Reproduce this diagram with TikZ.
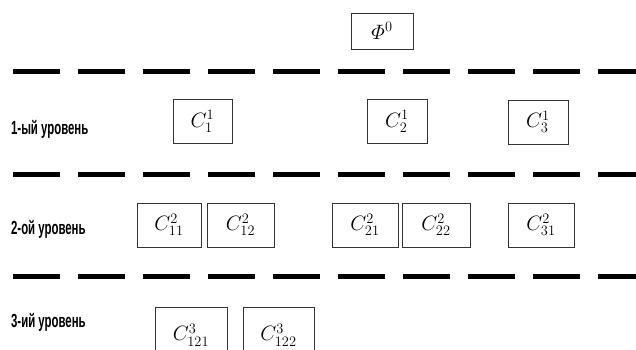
\documentclass[tikz,border=0pt]{standalone}
\usepackage{fontspec}
\newfontfamily\lblfont{Liberation Sans}
\begin{document}
\begin{tikzpicture}[x=1pt,y=-1pt,
  box/.style={draw=black!80, line width=1pt, fill=white, inner sep=0pt, font=\fontsize{20}{24}\selectfont},
  lvl/.style={anchor=west, inner sep=0pt, xscale=0.6, font=\lblfont\bfseries\fontsize{19}{22}\selectfont},
  sep/.style={line width=5pt, dash pattern=on 47pt off 18pt}]
\useasboundingbox[fill=white] (0,0) rectangle (636,349);
% separators
\coordinate (s1a) at (13,71); \coordinate (s1b) at (640,71);
\coordinate (s2a) at (13,174.5); \coordinate (s2b) at (640,174.5);
\coordinate (s3a) at (13,276); \coordinate (s3b) at (640,276);
\draw[sep] (s1a) -- (s1b);
\draw[sep] (s2a) -- (s2b);
\draw[sep] (s3a) -- (s3b);
% level labels
\node[lvl] (l1) at (11,129) {1-ый уровень};
\node[lvl] (l2) at (11,229) {2-ой уровень};
\node[lvl] (l3) at (11,322) {3-ий уровень};
% top
\node[box, minimum width=62pt, minimum height=36pt] (phi) at (382,31) {$\mathnormal{\Phi}^{0}$};
% level 1
\node[box, minimum width=59pt, minimum height=44pt] (c1) at (202.5,121.5) {$C_1^1$};
\node[box, minimum width=60pt, minimum height=44pt] (c2) at (397,121.5) {$C_2^1$};
\node[box, minimum width=60pt, minimum height=44pt] (c3) at (538,122) {$C_3^1$};
% level 2
\node[box, minimum width=64pt, minimum height=44pt] (c11) at (169,225) {$C_{11}^2$};
\node[box, minimum width=67pt, minimum height=44pt] (c12) at (240.5,225) {$C_{12}^2$};
\node[box, minimum width=66pt, minimum height=44pt] (c21) at (365,225) {$C_{21}^2$};
\node[box, minimum width=68pt, minimum height=44pt] (c22) at (436,225) {$C_{22}^2$};
\node[box, minimum width=66pt, minimum height=44pt] (c31) at (541,225) {$C_{31}^2$};
% level 3
\node[box, minimum width=72pt, minimum height=48pt, text depth=0pt] (c121) at (191,331) {\raisebox{-3pt}{$C_{121}^3$}};
\node[box, minimum width=71pt, minimum height=48pt, text depth=0pt] (c122) at (278.5,331) {\raisebox{-3pt}{$C_{122}^3$}};
\end{tikzpicture}
\end{document}
